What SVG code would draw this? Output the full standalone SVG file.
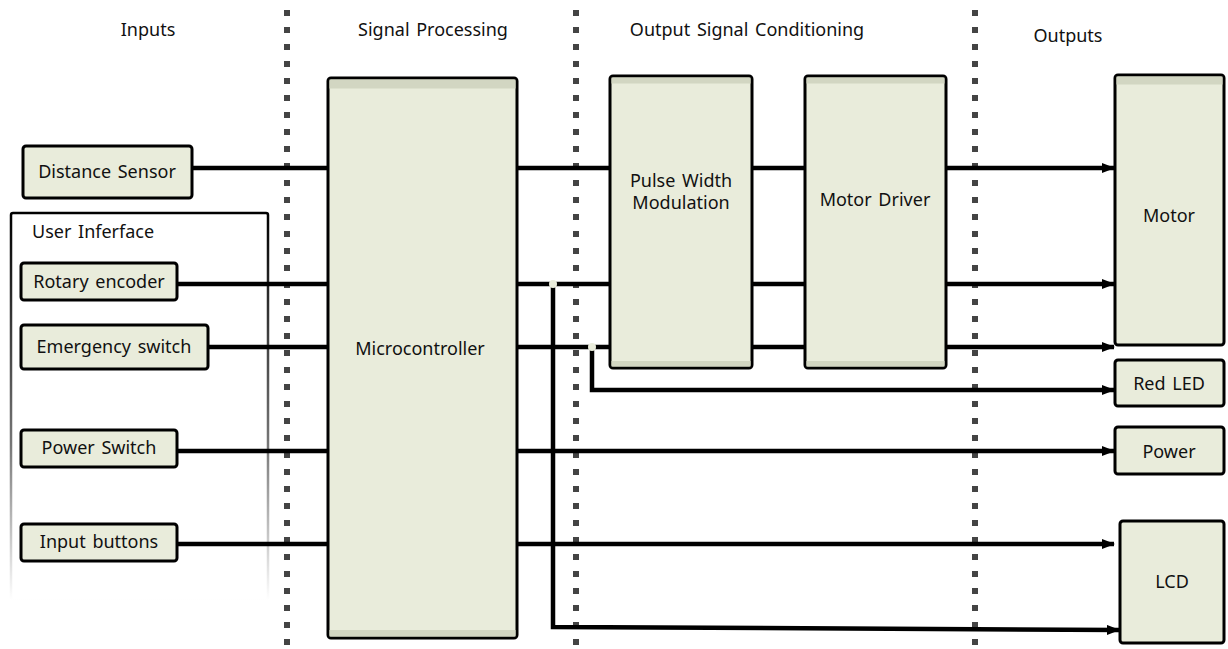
<svg xmlns="http://www.w3.org/2000/svg" width="1228" height="649" viewBox="0 0 1228 649">
<style>
.t{font-family:"Noto Sans","DejaVu Sans",sans-serif;font-size:18px;fill:#111;word-spacing:2px}
.m{text-anchor:middle}
.box{fill:#e9ecdb;stroke:#000;stroke-width:3}
.strip{fill:#d2d6c2}
.c{fill:none;stroke:#000;stroke-width:4.5}
.a{marker-end:url(#ah)}
.sep{stroke:#444;stroke-width:6;stroke-dasharray:6 11}
</style>
<defs>
<marker id="ah" markerWidth="13" markerHeight="10" refX="12" refY="5" orient="auto" markerUnits="userSpaceOnUse">
<path d="M0,0 L13,5 L0,10 z" fill="#000"/>
</marker>
<linearGradient id="fade" x1="0" y1="0" x2="0" y2="1">
<stop offset="0" stop-color="#000"/>
<stop offset="0.6" stop-color="#777"/>
<stop offset="1" stop-color="#fff"/>
</linearGradient>
</defs>
<rect width="1228" height="649" fill="#fff"/>
<g id="separators">
<line class="sep" x1="287" y1="10" x2="287" y2="649"/>
<line class="sep" x1="576" y1="10" x2="576" y2="649"/>
<line class="sep" x1="975" y1="10" x2="975" y2="649"/>
</g>
<g id="headers">
<text class="t m" x="148" y="36">Inputs</text>
<text class="t m" x="433" y="36">Signal Processing</text>
<text class="t m" x="747" y="36">Output Signal Conditioning</text>
<text class="t m" x="1068" y="42">Outputs</text>
</g>
<g id="user-interface">
<rect x="11" y="213" width="257" height="387" rx="2" fill="none" stroke="url(#fade)" stroke-width="2.5"/>
<text class="t" x="32" y="238">User Inferface</text>
</g>
<g id="connectors">
<line class="c" x1="192" y1="168" x2="328" y2="168"/>
<line class="c" x1="177" y1="284" x2="328" y2="284"/>
<line class="c" x1="208" y1="347" x2="328" y2="347"/>
<line class="c" x1="177" y1="451" x2="328" y2="451"/>
<line class="c" x1="177" y1="544" x2="328" y2="544"/>
<line class="c" x1="517" y1="168" x2="610" y2="168"/>
<line class="c" x1="752" y1="168" x2="805" y2="168"/>
<line class="c a" x1="946" y1="168" x2="1114" y2="168"/>
<line class="c" x1="517" y1="284" x2="610" y2="284"/>
<line class="c" x1="752" y1="284" x2="805" y2="284"/>
<line class="c a" x1="946" y1="284" x2="1114" y2="284"/>
<line class="c" x1="517" y1="347" x2="610" y2="347"/>
<line class="c" x1="752" y1="347" x2="805" y2="347"/>
<line class="c a" x1="946" y1="347" x2="1114" y2="347"/>
<path class="c a" d="M592,347 V390 H1114"/>
<line class="c a" x1="517" y1="451" x2="1114" y2="451"/>
<line class="c a" x1="517" y1="544" x2="1114" y2="544"/>
<path class="c a" d="M553,284 V627 L1119,630"/>
<circle cx="553" cy="284" r="4" fill="#e9ecdb"/>
<circle cx="592" cy="347" r="4" fill="#e9ecdb"/>
</g>
<g id="distance-sensor">
<rect class="box" x="23" y="146" width="169" height="52" rx="3"/>
<text class="t m" x="107" y="178">Distance Sensor</text>
</g>
<g id="rotary-encoder">
<rect class="box" x="21" y="263" width="156" height="37" rx="3"/>
<text class="t m" x="99" y="288">Rotary encoder</text>
</g>
<g id="emergency-switch">
<rect class="box" x="21" y="325" width="187" height="44" rx="3"/>
<text class="t m" x="114" y="353">Emergency switch</text>
</g>
<g id="power-switch">
<rect class="box" x="21" y="430" width="156" height="37" rx="3"/>
<text class="t m" x="99" y="454">Power Switch</text>
</g>
<g id="input-buttons">
<rect class="box" x="21" y="524" width="156" height="37" rx="3"/>
<text class="t m" x="99" y="548">Input buttons</text>
</g>
<g id="microcontroller">
<rect class="box" x="328" y="78" width="189" height="560" rx="3"/>
<rect class="strip" x="329.5" y="79.5" width="186" height="9"/>
<rect class="strip" x="329.5" y="630" width="186" height="6.5"/>
<text class="t m" x="420" y="355">Microcontroller</text>
</g>
<g id="pwm">
<rect class="box" x="610" y="76" width="142" height="292" rx="3"/>
<rect class="strip" x="611.5" y="77.5" width="139" height="6"/>
<rect class="strip" x="611.5" y="361" width="139" height="5.5"/>
<text class="t m" x="681" y="187">Pulse Width</text>
<text class="t m" x="681" y="209">Modulation</text>
</g>
<g id="motor-driver">
<rect class="box" x="805" y="76" width="141" height="292" rx="3"/>
<rect class="strip" x="806.5" y="77.5" width="138" height="6"/>
<rect class="strip" x="806.5" y="361" width="138" height="5.5"/>
<text class="t m" x="875" y="206">Motor Driver</text>
</g>
<g id="motor">
<rect class="box" x="1115" y="75" width="109" height="270" rx="3"/>
<rect class="strip" x="1116.5" y="76.5" width="106" height="8"/>
<text class="t m" x="1169" y="222">Motor</text>
</g>
<g id="red-led">
<rect class="box" x="1115" y="360" width="109" height="46" rx="3"/>
<text class="t m" x="1169" y="390">Red LED</text>
</g>
<g id="power">
<rect class="box" x="1115" y="427" width="109" height="47" rx="3"/>
<text class="t m" x="1169" y="458">Power</text>
</g>
<g id="lcd">
<rect class="box" x="1120" y="521" width="104" height="122" rx="3"/>
<text class="t m" x="1172" y="588">LCD</text>
</g>
</svg>
